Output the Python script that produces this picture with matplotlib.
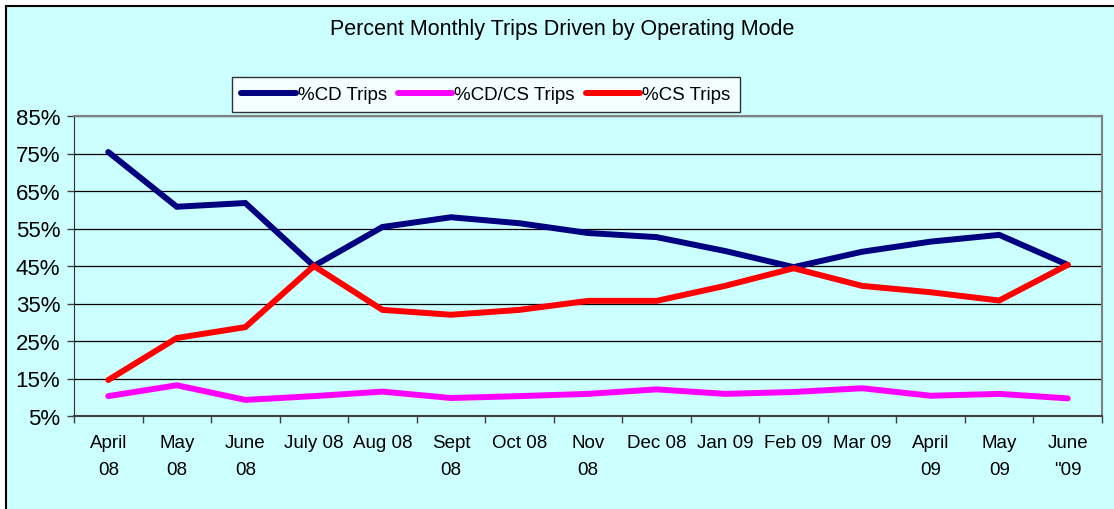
"""
Percent monthly trips by operating mode
"""
import numpy as np
import matplotlib
matplotlib.use('Agg')
import matplotlib.pyplot as plt
from matplotlib.patches import Rectangle
import matplotlib.ticker as mtick

plt.rcParams['font.family'] = ['Liberation Sans', 'DejaVu Sans']

# %% data
months = ['April\n08', 'May\n08', 'June\n08', 'July 08', 'Aug 08', 'Sept\n08',
          'Oct 08', 'Nov\n08', 'Dec 08', 'Jan 09', 'Feb 09', 'Mar 09',
          'April\n09', 'May\n09', 'June\n"09']
cd_trips = [75.4, 60.8, 61.8, 45.0, 55.4, 58.0, 56.4, 53.8, 52.7, 49.0, 44.7,
            48.8, 51.5, 53.3, 45.3]
cdcs_trips = [10.3, 13.2, 9.3, 10.3, 11.5, 9.8, 10.3, 10.9, 12.1, 10.9, 11.4,
              12.4, 10.4, 10.9, 9.7]
cs_trips = [14.6, 25.8, 28.7, 45.0, 33.3, 32.0, 33.3, 35.7, 35.7, 39.7, 44.4,
            39.7, 38.0, 35.8, 45.3]
yticks = [5, 15, 25, 35, 45, 55, 65, 75, 85]

bg = '#CCFFFF'

# %% plot
fig = plt.figure(figsize=(11.14, 5.10), dpi=100, facecolor='white')
fig.patches.append(Rectangle((6 / 1114, -0.1), 1.2, 1 - 7 / 510 + 0.1,
                             transform=fig.transFigure, facecolor=bg,
                             edgecolor='black', linewidth=1.5, zorder=-10))
ax = fig.add_axes([74 / 1114, 1 - 417 / 510, (1102 - 74) / 1114, 300 / 510])
ax.set_facecolor(bg)

x = np.arange(len(months))
ax.plot(x, cd_trips, color='#000080', lw=4.3, label='%CD Trips',
        solid_capstyle='round', solid_joinstyle='miter', zorder=3)
ax.plot(x, cdcs_trips, color='#FF00FF', lw=4.3, label='%CD/CS Trips',
        solid_capstyle='round', solid_joinstyle='miter', zorder=3)
ax.plot(x, cs_trips, color='#FF0000', lw=4.3, label='%CS Trips',
        solid_capstyle='round', solid_joinstyle='miter', zorder=3)

ax.set_xlim(-0.5, len(months) - 0.5)
ax.set_ylim(5, 85)
ax.set_yticks(yticks)
ax.yaxis.set_major_formatter(mtick.FuncFormatter(lambda v, _: f'{v:.0f}%'))
ax.tick_params(axis='y', direction='out', length=5, width=1, pad=5,
               labelsize=16, color='#404040')
ax.grid(axis='y', color='black', lw=0.9)
ax.set_axisbelow(True)

# ticks at category boundaries, labels at centres
ax.set_xticks(np.arange(-0.5, len(months)))
ax.set_xticklabels([])
ax.set_xticks(x, minor=True)
ax.set_xticklabels(months, minor=True, fontsize=13.5, linespacing=1.75,
                   va='top')
ax.tick_params(axis='x', which='major', direction='out', length=5, width=1,
               color='#404040')
ax.tick_params(axis='x', which='minor', length=0, pad=13)

ax.spines['left'].set_color('#303030')
ax.spines['bottom'].set_color('#404040')
ax.spines['bottom'].set_linewidth(1.5)
for s in ['top', 'right']:
    ax.spines[s].set_color('#808080')
    ax.spines[s].set_linewidth(1.5)

fig.text(562 / 1114, 1 - 29 / 510, 'Percent Monthly Trips Driven by Operating Mode',
         ha='center', va='center', fontsize=15.5)

leg = fig.legend(loc='center', bbox_to_anchor=(486 / 1114, 1 - 95.5 / 510),
                 ncol=3, fontsize=13.5, frameon=True, fancybox=False,
                 handlelength=2.9, handletextpad=0.1, columnspacing=0.6,
                 borderpad=0.5, edgecolor='black')
leg.get_frame().set_linewidth(1)
leg.get_frame().set_facecolor('white')

plt.savefig('out.png', dpi=100, facecolor=fig.get_facecolor())
